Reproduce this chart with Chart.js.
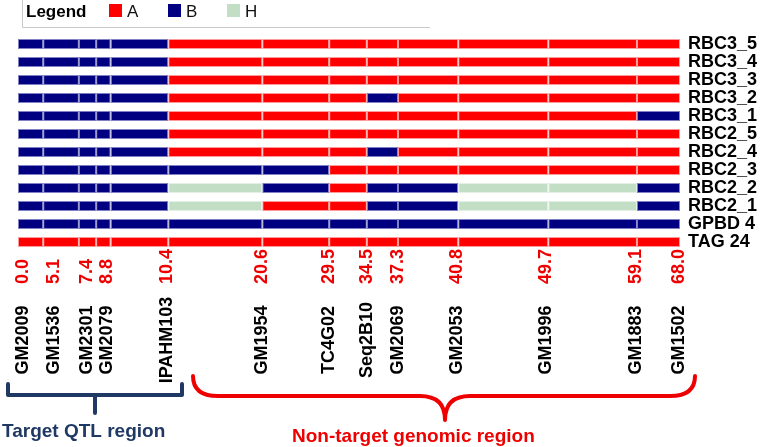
<!DOCTYPE html>
<html><head><meta charset="utf-8">
<script src="https://cdn.jsdelivr.net/npm/chart.js@4.4.0/dist/chart.umd.min.js"></script>
<style>html,body{margin:0;padding:0;background:#fff}#wrap{width:767px;height:447px;position:relative}</style>
</head><body><div id="wrap"><canvas id="c" width="767" height="447"></canvas></div>
<script>
// Breeding lines (rows, top to bottom)
const lines = ['RBC3_5','RBC3_4','RBC3_3','RBC3_2','RBC3_1','RBC2_5','RBC2_4','RBC2_3','RBC2_2','RBC2_1','GPBD 4','TAG 24'];
// Markers and their map positions (cM) as printed
const markers = ['GM2009','GM1536','GM2301','GM2079','IPAHM103','GM1954','TC4G02','Seq2B10','GM2069','GM2053','GM1996','GM1883','GM1502'];
const positionsCM = ['0.0','5.1','7.4','8.8','10.4','20.6','29.5','34.5','37.3','40.8','49.7','59.1','68.0'];
// Segment edges along the drawn linkage group (percent of drawn length)
const segmentEdges = [0, 3.8, 9.2, 11.8, 14.0, 22.7, 36.9, 47.0, 52.7, 57.4, 66.5, 80.1, 93.5, 100];
// Where each marker label column sits (same percent units)
const labelAt = [0.6, 5.3, 10.3, 13.3, 22.4, 36.7, 46.8, 52.6, 57.3, 66.2, 79.6, 93.2, 99.7];
// Genotype of each of the 13 segments per line (A, B, H)
const genotypeRows = [
  'BBBBBAAAAAAAA', // RBC3_5
  'BBBBBAAAAAAAA', // RBC3_4
  'BBBBBAAAAAAAA', // RBC3_3
  'BBBBBAAABAAAA', // RBC3_2
  'BBBBBAAAAAAAB', // RBC3_1
  'BBBBBAAAAAAAA', // RBC2_5
  'BBBBBAAABAAAA', // RBC2_4
  'BBBBBBBAAAAAA', // RBC2_3
  'BBBBBHBABBHHB', // RBC2_2
  'BBBBBHAABBHHB', // RBC2_1
  'BBBBBBBBBBBBB', // GPBD 4
  'AAAAAAAAAAAAA'  // TAG 24
];
const genotypes = ['A','B','H'];
const genoColors = {A:'#ff0000', B:'#000080', H:'#c2dec5'};
const genoBorders = {A:'#ff9a9a', B:'#8080c4', H:'#e4f0e5'};

const FONT = '"Liberation Sans", Arial, Helvetica, sans-serif';

const datasets = segmentEdges.slice(1).map((edge, i) => ({
  label: markers[i],
  data: lines.map(() => +(edge - segmentEdges[i]).toFixed(2)),
  backgroundColor: genotypeRows.map(r => genoColors[r[i]]),
  borderColor: genotypeRows.map(r => genoBorders[r[i]]),
  borderWidth: 1,
  borderSkipped: false,
  barPercentage: 0.56,
  categoryPercentage: 1
}));

const annotations = {
  id: 'annotations',
  afterDraw(chart) {
    const ctx = chart.ctx;
    const xs = chart.scales.x;
    ctx.save();
    // Legend frame
    ctx.strokeStyle = '#c8c8c8';
    ctx.lineWidth = 1;
    ctx.beginPath();
    ctx.moveTo(22.5, 0); ctx.lineTo(22.5, 27.5); ctx.lineTo(430, 27.5);
    ctx.stroke();
    ctx.textBaseline = 'alphabetic';
    ctx.textAlign = 'left';
    ctx.fillStyle = '#000';
    ctx.font = 'bold 17px ' + FONT;
    ctx.fillText('Legend', 26, 17);
    const legX = [109, 168, 227];
    genotypes.forEach((g, i) => {
      ctx.fillStyle = genoColors[g];
      ctx.fillRect(legX[i], 4, 13, 13);
      ctx.fillStyle = '#111';
      ctx.font = '17px ' + FONT;
      ctx.fillText(g, legX[i] + 18, 17);
    });
    // Position labels (red) and marker names (black), rotated
    positionsCM.forEach((t, i) => {
      const x = xs.getPixelForValue(labelAt[i]);
      ctx.save();
      ctx.translate(x, 284);
      ctx.rotate(-Math.PI / 2);
      ctx.textAlign = 'left';
      ctx.textBaseline = 'middle';
      ctx.fillStyle = '#ee0000';
      ctx.font = 'bold 18px ' + FONT;
      ctx.fillText(t, 0, 1);
      ctx.restore();
      ctx.save();
      ctx.translate(x, 340);
      ctx.rotate(-Math.PI / 2);
      ctx.textAlign = 'center';
      ctx.textBaseline = 'middle';
      ctx.fillStyle = '#000';
      ctx.font = 'bold 18px ' + FONT;
      ctx.fillText(markers[i], 0, 1);
      ctx.restore();
    });
    // Target QTL bracket
    ctx.strokeStyle = '#1f3864';
    ctx.lineWidth = 4;
    ctx.lineJoin = 'round';
    ctx.lineCap = 'round';
    ctx.beginPath();
    ctx.moveTo(8, 384); ctx.lineTo(8, 395); ctx.lineTo(182, 395); ctx.lineTo(182, 384);
    ctx.moveTo(95, 395); ctx.lineTo(95, 413);
    ctx.stroke();
    // Non-target curly brace
    ctx.strokeStyle = '#ee0000';
    ctx.beginPath();
    ctx.moveTo(193, 376);
    ctx.quadraticCurveTo(193, 396, 218, 396);
    ctx.lineTo(420, 396);
    ctx.quadraticCurveTo(445, 396, 445, 420);
    ctx.quadraticCurveTo(445, 396, 470, 396);
    ctx.lineTo(670, 396);
    ctx.quadraticCurveTo(695, 396, 695, 376);
    ctx.stroke();
    ctx.font = 'bold 19px ' + FONT;
    ctx.textAlign = 'left';
    ctx.textBaseline = 'alphabetic';
    ctx.fillStyle = '#1f3864';
    ctx.fillText('Target QTL region', 2, 437);
    ctx.fillStyle = '#ee0000';
    ctx.fillText('Non-target genomic region', 292, 442);
    ctx.restore();
  }
};

new Chart(document.getElementById('c'), {
  type: 'bar',
  data: { labels: lines, datasets },
  options: {
    indexAxis: 'y',
    responsive: false,
    animation: false,
    layout: { padding: { left: 18, top: 35, bottom: 196, right: 0 } },
    plugins: { legend: { display: false }, tooltip: { enabled: false } },
    scales: {
      x: { type: 'linear', min: 0, max: 100, stacked: true, display: false },
      y: {
        type: 'category', stacked: true, position: 'right',
        grid: { display: false, drawTicks: false },
        border: { display: false },
        ticks: { color: '#000', padding: 8, crossAlign: 'near', autoSkip: false, font: { family: FONT, size: 18, weight: 'bold' } },
        afterFit(s) { s.width = 87; }
      }
    }
  },
  plugins: [annotations]
});
</script>
</body></html>
